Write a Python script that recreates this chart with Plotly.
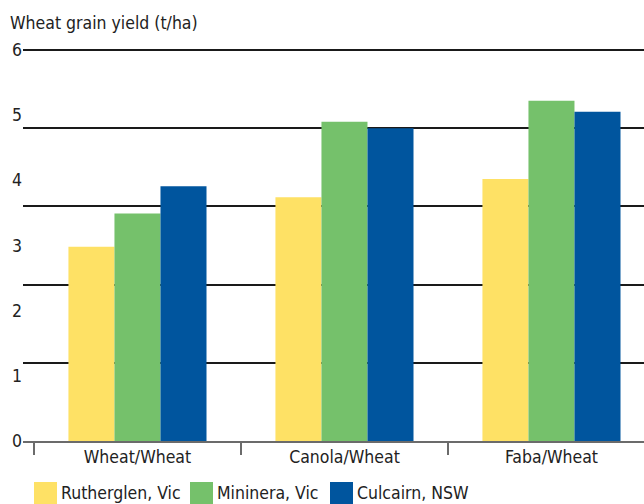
import plotly.graph_objects as go

# rotations on the x-axis
rotations = ["Wheat/Wheat", "Canola/Wheat", "Faba/Wheat"]

# wheat grain yield (t/ha) per site
sites = ["Rutherglen, Vic", "Mininera, Vic", "Culcairn, NSW"]
rutherglen = [2.98, 3.74, 4.02]
mininera = [3.49, 4.90, 5.22]
culcairn = [3.91, 4.80, 5.05]
site_colors = ["#FEE165", "#75C16B", "#00559E"]

y_ticks = [0, 1, 2, 3, 4, 5, 6]
grid_vals = [1.2, 2.4, 3.6, 4.8, 6.0]

FONT = "DejaVu Sans Condensed, Roboto, sans-serif"
FSIZE = 17.5
TEXT = "#222222"

# plot area in pixels (used to place the hand-made legend)
W, H = 644, 504
L, R, T, B = 23, 0, 48, 63
pw, ph = W - L - R, H - T - B


def px_x(x):
    return (x - L) / pw


def px_y(y):
    return (H - B - y) / ph


fig = go.Figure()
for name, vals, col in zip(sites, [rutherglen, mininera, culcairn], site_colors):
    fig.add_trace(go.Bar(
        x=rotations, y=vals, name=name,
        marker=dict(color=col, line=dict(width=0)),
        showlegend=False,
    ))

# empty trace so the label axis is drawn
fig.add_trace(go.Scatter(x=[], y=[], yaxis="y2", showlegend=False, hoverinfo="skip"))

# legend built by hand: big square swatches right next to the text
swatch_left = [34, 190, 330]
for name, col, sx in zip(sites, site_colors, swatch_left):
    fig.add_shape(
        type="rect", xref="paper", yref="paper",
        x0=px_x(sx), x1=px_x(sx + 23), y0=px_y(482), y1=px_y(505),
        fillcolor=col, line=dict(width=0),
    )
    fig.add_annotation(
        text=name, xref="paper", yref="paper",
        x=px_x(sx + 25), y=px_y(493), xanchor="left", yanchor="middle",
        showarrow=False, font=dict(family=FONT, size=FSIZE, color=TEXT),
    )

fig.add_annotation(
    text="Wheat grain yield (t/ha)", xref="paper", yref="paper",
    x=px_x(8), y=px_y(23), xanchor="left", yanchor="middle",
    showarrow=False, font=dict(family=FONT, size=FSIZE, color=TEXT),
)

fig.update_layout(
    width=W, height=H,
    margin=dict(l=L, r=R, t=T, b=B),
    paper_bgcolor="white", plot_bgcolor="white",
    barmode="group", bargap=0.333, bargroupgap=0,
    font=dict(family=FONT, size=FSIZE, color=TEXT),
    xaxis=dict(
        type="category", range=[-0.553, 2.447],
        showline=True, linecolor="#6b6b6b", linewidth=1.5,
        ticks="outside", tickson="boundaries", ticklen=12,
        tickcolor="#6b6b6b", tickwidth=1.5,
        showgrid=False, ticklabelstandoff=-1,
        tickfont=dict(family=FONT, size=FSIZE, color=TEXT),
    ),
    # range a hair above 6 so the top grid line is not dropped at the edge
    yaxis=dict(
        range=[0, 6.03], tickvals=grid_vals, showticklabels=False,
        showgrid=True, gridcolor="#1a1a1a", gridwidth=1.5,
        zeroline=False, ticks="",
    ),
    yaxis2=dict(
        overlaying="y", side="left", range=[0, 6.03],
        tickvals=y_ticks, showgrid=False, zeroline=False, ticks="",
        tickfont=dict(family=FONT, size=FSIZE, color=TEXT),
    ),
)

fig.write_html(
    "out.html",
    config={"displayModeBar": False},
    post_script="document.body.style.margin='0';document.body.style.padding='0';",
)
